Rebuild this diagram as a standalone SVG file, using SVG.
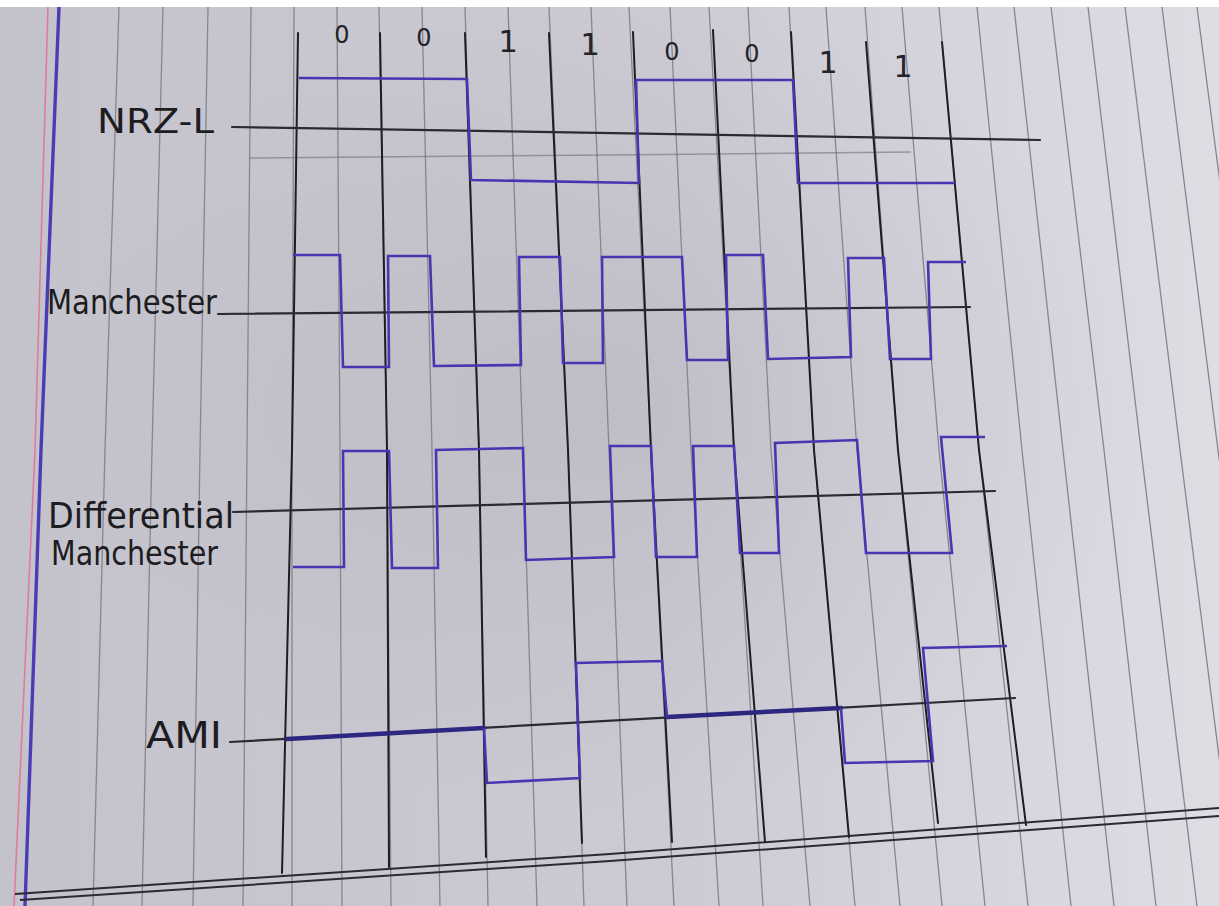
<svg xmlns="http://www.w3.org/2000/svg" width="1219" height="906" viewBox="0 0 1219 906">
<defs>
<linearGradient id="paperGrad" x1="0" y1="0" x2="1" y2="0">
<stop offset="0" stop-color="#c4c3cc"/>
<stop offset="0.55" stop-color="#cccbd4"/>
<stop offset="1" stop-color="#dddde4"/>
</linearGradient>
<radialGradient id="shade" cx="0.5" cy="0.45" r="0.45">
<stop offset="0" stop-color="#9a99a3" stop-opacity="0.25"/>
<stop offset="1" stop-color="#9a99a3" stop-opacity="0"/>
</radialGradient>
<style>
.rule{stroke:#86868f;stroke-width:1.3;fill:none}
.bit{stroke:#1d1d23;stroke-width:2;fill:none;stroke-linecap:round}
.axis{stroke:#2a2a30;stroke-width:2.2;fill:none;stroke-linecap:round}
.wave{stroke:#4636b2;stroke-width:2.6;fill:none;stroke-linejoin:miter}
.zero{stroke:#2d2780;stroke-width:4.5;fill:none;stroke-linecap:round}
.edge{stroke:#2a2a32;stroke-width:2;fill:none}
.lbl{font-family:"DejaVu Sans","Liberation Sans",sans-serif;fill:#1c1c21}
.dig{font-family:"DejaVu Sans","Liberation Sans",sans-serif;fill:#232328;text-anchor:middle}
</style>
</defs>

<g id="paper">
<rect x="0" y="0" width="1219" height="906" fill="url(#paperGrad)"/>
<rect x="0" y="0" width="1219" height="906" fill="url(#shade)"/>
<rect x="0" y="0" width="1219" height="7" fill="#ffffff"/>
<g id="ruled-lines">
<path class="rule" d="M119,7 L105,450 L93,906"/>
<path class="rule" d="M163,7 L152,450 L142,906"/>
<path class="rule" d="M208,7 L200,450 L193,906"/>
<path class="rule" d="M251,7 L247,450 L243,906"/>
<path class="rule" d="M294,7 L292,450 L292,906"/>
<path class="rule" d="M337,7 L340,450 L342,906"/>
<path class="rule" d="M379,7 L387,450 L391,906"/>
<path class="rule" d="M422,7 L432,450 L440,906"/>
<path class="rule" d="M465,7 L479,450 L488,906"/>
<path class="rule" d="M508,7 L523,450 L537,906"/>
<path class="rule" d="M549,7 L568,450 L584,906"/>
<path class="rule" d="M591,7 L609,450 L627,906"/>
<path class="rule" d="M629,7 L651,450 L674,906"/>
<path class="rule" d="M670,7 L691,450 L719,906"/>
<path class="rule" d="M709,7 L734,450 L763,906"/>
<path class="rule" d="M748,7 L771,450 L810,906"/>
<path class="rule" d="M789,7 L814,450 L855,906"/>
<path class="rule" d="M826,7 L857,450 L900,906"/>
<path class="rule" d="M865,7 L898,450 L942,906"/>
<path class="rule" d="M902,7 L939,450 L985,906"/>
<path class="rule" d="M939,7 L979,450 L1028,906"/>
<path class="rule" d="M977,7 L1022,450 L1071,906"/>
<path class="rule" d="M1014,7 L1063,450 L1114,906"/>
<path class="rule" d="M1051,7 L1104,450 L1156,906"/>
<path class="rule" d="M1088,7 L1141,450 L1197,906"/>
<path class="rule" d="M1125,7 L1180,450 L1238,906"/>
<path class="rule" d="M1162,7 L1218,450 L1278,906"/>
<path class="rule" d="M1197,7 L1255,450 L1318,906"/>
</g>
<path d="M48,7 L35,450 L14,906" stroke="#e07b9c" stroke-width="1.6" fill="none"/>
<path d="M59,7 L41,450 L25,906" stroke="#4a3cb6" stroke-width="3.4" fill="none"/>
<path class="edge" d="M15,894 L610,854 L1219,808"/>
<path class="edge" d="M20,900 L610,861 L1219,816"/>
<path d="M250,158 L610,155 L911,152" stroke="#6f6f78" stroke-width="1.5" stroke-opacity="0.6" fill="none"/>
</g>

<g id="bit-boundaries">
<path class="bit" d="M298,33 L292,450 L282,873"/>
<path class="bit" d="M380,33 L387,450 L389,867"/>
<path class="bit" d="M465,33 L479,450 L486,857"/>
<path class="bit" d="M549,33 L568,450 L582,843"/>
<path class="bit" d="M633,32 L651,450 L672,842"/>
<path class="bit" d="M713,30 L734,450 L765,842"/>
<path class="bit" d="M791,32 L814,450 L849,837"/>
<path class="bit" d="M866,42 L898,450 L938,823"/>
<path class="bit" d="M942,42 L979,450 L1026,825"/>
</g>

<g id="bit-values">
<text class="dig" x="342" y="43" font-size="24">0</text>
<text class="dig" x="424" y="46" font-size="24">0</text>
<text class="dig" x="508" y="52" font-size="31">1</text>
<text class="dig" x="590" y="55" font-size="31">1</text>
<text class="dig" x="672" y="60" font-size="24">0</text>
<text class="dig" x="752" y="62" font-size="24">0</text>
<text class="dig" x="828" y="73" font-size="30">1</text>
<text class="dig" x="903" y="77" font-size="30">1</text>
</g>

<g id="connectors">
<path id="axis-nrzl" class="axis" d="M232,127 L1040,140"/>
<path id="axis-manchester" class="axis" d="M218,314 L970,307"/>
<path id="axis-diff" class="axis" d="M233,512 L995,491"/>
<path id="axis-ami" class="axis" d="M230,742 L1015,698"/>
</g>

<g id="nrzl">
<text class="lbl" x="97" y="133" font-size="34" textLength="117" lengthAdjust="spacingAndGlyphs">NRZ-L</text>
<polyline class="wave" points="299,78 467,79 471,180 639,183 636,80 793,80 798,183 955,183"/>
</g>

<g id="manchester">
<text class="lbl" x="47" y="314" font-size="34" textLength="170" lengthAdjust="spacingAndGlyphs">Manchester</text>
<polyline class="wave" points="293,255 340,255 343,367 389,367 388,256 430,256 434,366 521,365 519,257 560,257 563,363 603,363 602,257 682,257 687,360 728,360 726,255 763,255 768,359 851,357 848,258 884,258 890,359 931,359 928,262 966,262"/>
</g>

<g id="differential-manchester">
<text class="lbl" x="48" y="528" font-size="36" textLength="186" lengthAdjust="spacingAndGlyphs">Differential</text>
<text class="lbl" x="51" y="565" font-size="33" textLength="167" lengthAdjust="spacingAndGlyphs">Manchester</text>
<polyline class="wave" points="293,567 344,567 343,451 389,451 392,568 438,568 436,450 523,448 526,560 614,557 610,446 651,446 656,557 697,557 693,446 734,446 740,553 779,553 775,443 857,440 866,553 952,553 941,437 985,437"/>
</g>

<g id="ami">
<text class="lbl" x="146" y="748" font-size="38" textLength="76" lengthAdjust="spacingAndGlyphs">AMI</text>
<path class="zero" d="M287,739 L484,728"/>
<path class="zero" d="M667,717 L841,708"/>
<polyline class="wave" points="484,728 487,783 580,778 576,663 662,661 667,717"/>
<polyline class="wave" points="841,708 845,763 933,761 923,648 1007,646"/>
</g>
</svg>
